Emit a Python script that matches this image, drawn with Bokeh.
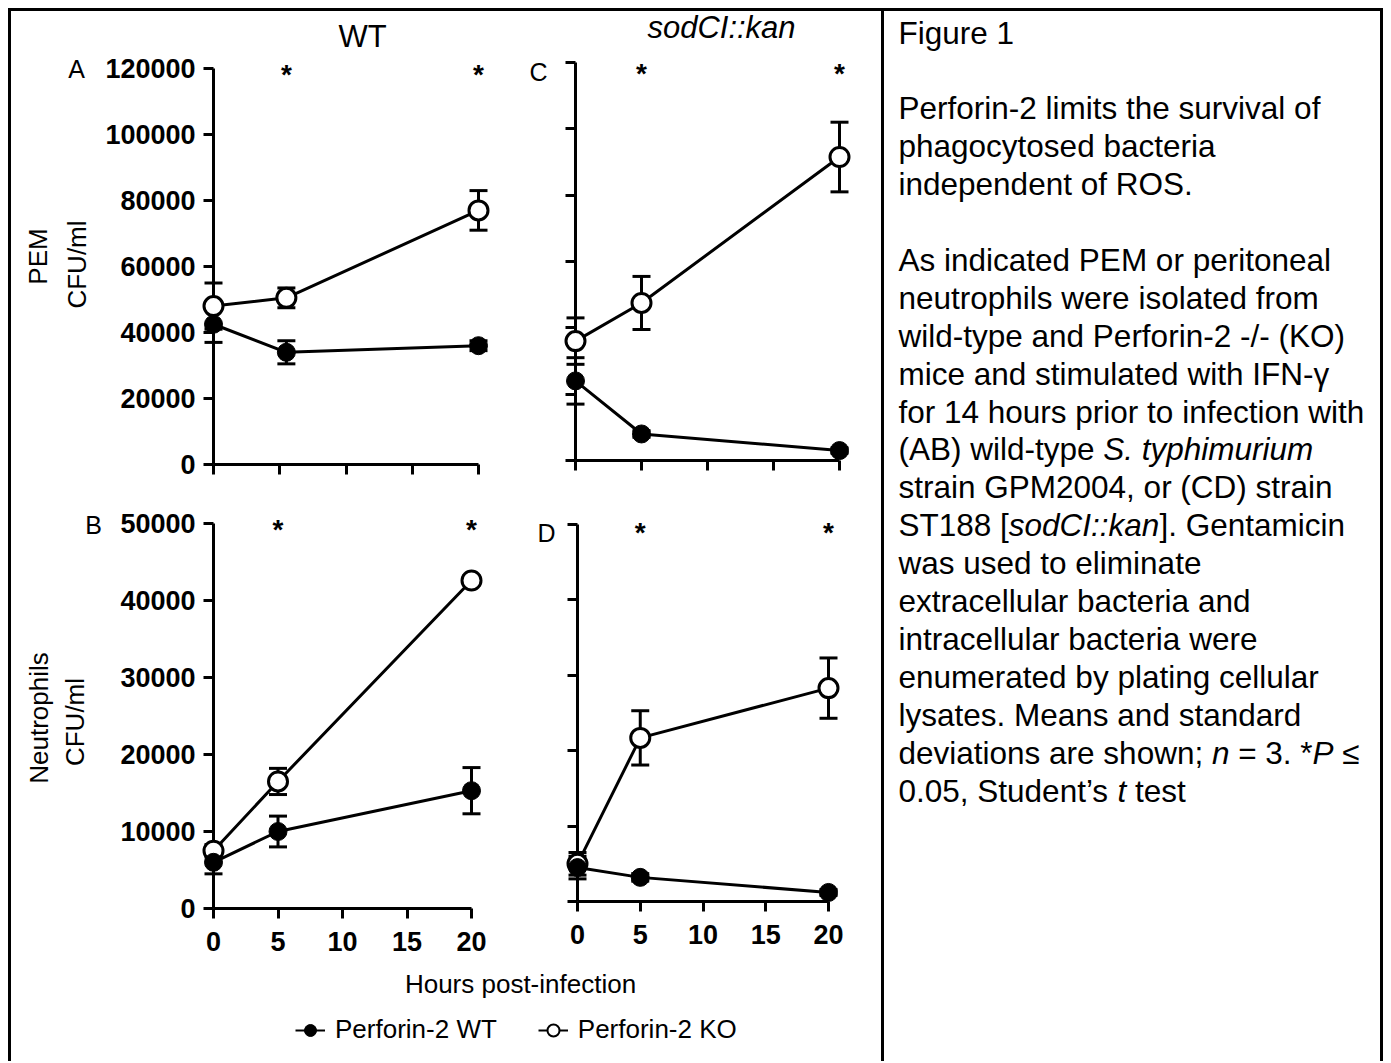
import math
from bokeh.plotting import figure
from bokeh.models import ColumnDataSource, Range1d, FixedTicker, Legend, LegendItem, Spacer
from bokeh.layouts import row, column
from bokeh.core.properties import value
from bokeh.embed import file_html
from bokeh.resources import INLINE

FONT = "Liberation Sans"
NAN = float("nan")

# ---------------- data ----------------
hours = [0, 5, 20]
hours_A = [0, 5.5, 20]
x_ticks = [0, 5, 10, 15, 20]
x_tick_labels = ["0", "5", "10", "15", "20"]

pem_ticks = [0, 20000, 40000, 60000, 80000, 100000, 120000]
pem_tick_labels = ["0", "20000", "40000", "60000", "80000", "100000", "120000"]
neu_ticks = [0, 10000, 20000, 30000, 40000, 50000]
neu_tick_labels = ["0", "10000", "20000", "30000", "40000", "50000"]

# A: PEM, wild-type strain
A_wt_mean = [42500, 34000, 36000]
A_wt_sd = [5500, 3500, 1500]
A_ko_mean = [48000, 50500, 77000]
A_ko_sd = [7000, 3000, 6000]
A_sig = [5.5, 20]

# C: PEM, sodCI::kan
C_wt_mean = [24000, 8000, 3000]
C_wt_sd = [7000, 1000, 800]
C_ko_mean = [36000, 47500, 91500]
C_ko_sd = [7000, 8000, 10500]
C_sig = [5, 20]

# B: Neutrophils, wild-type strain
B_wt_mean = [6000, 10000, 15300]
B_wt_sd = [1500, 2000, 3000]
B_ko_mean = [7500, 16500, 42600]
B_ko_sd = [800, 1700, 600]
B_sig = [5, 20]

# D: Neutrophils, sodCI::kan
D_wt_mean = [4500, 3200, 1200]
D_wt_sd = [1500, 500, 400]
D_ko_mean = [5000, 21700, 28300]
D_ko_sd = [1500, 3600, 4000]
D_sig = [5, 20]

series_labels = ["Perforin-2 WT", "Perforin-2 KO"]
x_title = "Hours post-infection"

caption_lines = [
    [("Figure 1", "normal")],
    [],
    [("Perforin-2 limits the survival of", "normal")],
    [("phagocytosed bacteria", "normal")],
    [("independent of ROS.", "normal")],
    [],
    [("As indicated PEM or peritoneal", "normal")],
    [("neutrophils were isolated from", "normal")],
    [("wild-type and Perforin-2 -/- (KO)", "normal")],
    [("mice and stimulated with IFN-\u03b3", "normal")],
    [("for 14 hours prior to infection with", "normal")],
    [("(AB) wild-type ", "normal"), ("S. typhimurium", "italic")],
    [("strain GPM2004, or (CD) strain", "normal")],
    [("ST188 [", "normal"), ("sodCI::kan", "italic"), ("]. Gentamicin", "normal")],
    [("was used to eliminate", "normal")],
    [("extracellular bacteria and", "normal")],
    [("intracellular bacteria were", "normal")],
    [("enumerated by plating cellular", "normal")],
    [("lysates. Means and standard", "normal")],
    [("deviations are shown; ", "normal"), ("n", "italic"), (" = 3. *", "normal"),
     ("P", "italic"), (" \u2264", "normal")],
    [("0.05, Student\u2019s ", "normal"), ("t", "italic"), (" test", "normal")],
]

# Helvetica/Arial advance widths (per 1000 em) for placing caption segments
HELV = {' ': 278, '(': 333, ')': 333, '[': 278, ']': 278, '.': 278, ',': 278, ';': 278,
        ':': 278, '-': 333, '/': 278, '*': 389, '=': 584, '\u2264': 549, '\u2019': 222,
        '\u03b3': 500,
        'a': 556, 'b': 556, 'c': 500, 'd': 556, 'e': 556, 'f': 278, 'g': 556, 'h': 556,
        'i': 222, 'j': 222, 'k': 500, 'l': 222, 'm': 833, 'n': 556, 'o': 556, 'p': 556,
        'q': 556, 'r': 333, 's': 500, 't': 278, 'u': 556, 'v': 500, 'w': 722, 'x': 500,
        'y': 500, 'z': 500,
        'A': 667, 'B': 667, 'C': 722, 'D': 722, 'E': 667, 'F': 611, 'G': 778, 'H': 722,
        'I': 278, 'J': 500, 'K': 667, 'L': 556, 'M': 833, 'N': 722, 'O': 778, 'P': 667,
        'Q': 778, 'R': 722, 'S': 667, 'T': 611, 'U': 722, 'V': 667, 'W': 944, 'X': 667,
        'Y': 667, 'Z': 611}


def text_width(s, size):
    return sum(HELV.get(c, 556) for c in s) * size / 1000.0


def style_axis(ax):
    ax.axis_line_width = 3
    ax.axis_line_color = "black"
    ax.major_tick_line_width = 3
    ax.major_tick_line_color = "black"
    ax.major_tick_out = 10
    ax.major_tick_in = 0
    ax.minor_tick_line_color = None
    ax.major_label_text_font = FONT
    ax.major_label_text_font_style = "bold"
    ax.major_label_text_font_size = "27px"
    ax.major_label_text_color = "black"


def panel(t, wt, wt_sd, ko, ko_sd, sig_t, yticks, ylabels, show_y, show_x, geom, ann):
    # geom: border left, frame width, border right, border top, frame height, border bottom
    L, FW, R, T, FH, B = geom
    ymin, ymax = yticks[0], yticks[-1]
    p = figure(width=L + FW + R, height=T + FH + B, frame_width=FW, frame_height=FH,
               x_range=Range1d(x_ticks[0], x_ticks[-1]), y_range=Range1d(ymin, ymax),
               min_border_left=L, min_border_right=R, min_border_top=T, min_border_bottom=B,
               output_backend="svg", toolbar_location=None)
    p.grid.visible = False
    p.outline_line_color = None
    p.background_fill_color = "white"
    p.border_fill_color = "white"
    style_axis(p.xaxis[0])
    style_axis(p.yaxis[0])
    p.xaxis.ticker = FixedTicker(ticks=x_ticks)
    p.yaxis.ticker = FixedTicker(ticks=yticks)
    p.xaxis.major_label_overrides = {v: (s if show_x else "") for v, s in zip(x_ticks, x_tick_labels)}
    p.yaxis.major_label_overrides = {v: (s if show_y else "") for v, s in zip(yticks, ylabels)}
    p.xaxis.major_label_standoff = 13
    p.yaxis.major_label_standoff = 8

    # error bars (mean +/- SD)
    for m, sd in ((wt, wt_sd), (ko, ko_sd)):
        src = ColumnDataSource(dict(x=t, lo=[a - b for a, b in zip(m, sd)],
                                    hi=[a + b for a, b in zip(m, sd)]))
        p.segment(x0="x", y0="lo", x1="x", y1="hi", source=src, line_width=3,
                  line_color="black", level="overlay")
        p.scatter(x="x", y="lo", source=src, marker="dash", size=18, line_width=3,
                  line_color="black", level="overlay")
        p.scatter(x="x", y="hi", source=src, marker="dash", size=18, line_width=3,
                  line_color="black", level="overlay")
    p.line(t, wt, line_width=3, line_color="black", level="overlay")
    p.line(t, ko, line_width=3, line_color="black", level="overlay")
    p.scatter(t, ko, marker="circle", size=19, fill_color="white", line_color="black",
              line_width=3, level="overlay")
    p.scatter(t, wt, marker="circle", size=18, fill_color="black", line_color="black",
              line_width=1, level="overlay")

    # significance asterisks
    p.text(x=sig_t, y=[ymax] * len(sig_t), text=["*"] * len(sig_t), text_align="center",
           text_baseline="alphabetic", y_offset=ann["star_dy"], text_font=value(FONT),
           text_font_size="28px", text_font_style="bold", text_color="black", level="overlay")
    # panel letter
    lx, ly = ann["letter_off"]
    p.text(x=[x_ticks[0]], y=[ymax], text=[ann["letter"]], x_offset=lx, y_offset=ly,
           text_align="center", text_baseline="alphabetic", text_font=value(FONT),
           text_font_size="25px", text_color="black", level="overlay")
    # column title
    if "title" in ann:
        tt, tx, ty, tstyle = ann["title"]
        p.text(x=[x_ticks[0]], y=[ymax], text=[tt], x_offset=tx, y_offset=ty,
               text_align="center", text_baseline="alphabetic", text_font=value(FONT),
               text_font_size="31px", text_font_style=tstyle, text_color="black",
               level="overlay")
    # rotated y titles
    for s, ox, oy in ann.get("ytitles", []):
        p.text(x=[x_ticks[0]], y=[(ymin + ymax) / 2], text=[s], x_offset=ox, y_offset=oy,
               angle=math.pi / 2, text_align="center", text_baseline="alphabetic",
               text_font=value(FONT), text_font_size="26px", text_color="black",
               level="overlay")
    return p


pA = panel(hours_A, A_wt_mean, A_wt_sd, A_ko_mean, A_ko_sd, A_sig, pem_ticks, pem_tick_labels,
           True, False, (202, 265, 37, 57, 396, 30),
           dict(star_dy=6, letter="A", letter_off=(-137, 0), title=("WT", 149, -32, "normal"),
                ytitles=[("PEM", -176, -10), ("CFU/ml", -137, -2)]))
pC = panel(hours, C_wt_mean, C_wt_sd, C_ko_mean, C_ko_sd, C_sig, pem_ticks, pem_tick_labels,
           False, False, (60, 264, 42, 51, 398, 34),
           dict(star_dy=11, letter="C", letter_off=(-37, 9),
                title=("sodCI::kan", 146, -35, "italic")))
pB = panel(hours, B_wt_mean, B_wt_sd, B_ko_mean, B_ko_sd, B_sig, neu_ticks, neu_tick_labels,
           True, True, (202, 258, 44, 29, 385, 52),
           dict(star_dy=6, letter="B", letter_off=(-120, 1),
                ytitles=[("Neutrophils", -175, 2), ("CFU/ml", -139, 6)]))
pD = panel(hours, D_wt_mean, D_wt_sd, D_ko_mean, D_ko_sd, D_sig, neu_ticks, neu_tick_labels,
           False, True, (62, 251, 53, 30, 377, 59),
           dict(star_dy=8, letter="D", letter_off=(-31, 8)))

# bottom strip: shared x title and legend
BW, BH = 870, 101
bot = figure(width=BW, height=BH, x_range=Range1d(0, BW), y_range=Range1d(BH, 0),
             x_axis_type=None, y_axis_type=None, min_border=0, output_backend="svg",
             toolbar_location=None)
bot.grid.visible = False
bot.outline_line_color = None
bot.text(x=[509], y=[23], text=[x_title], text_align="center", text_baseline="alphabetic",
         text_font=value(FONT), text_font_size="26px", text_color="black")
r1 = bot.line([NAN], [NAN], line_width=2, line_color="black")
r2 = bot.scatter([NAN], [NAN], marker="circle", size=12, fill_color="black", line_color="black")
r3 = bot.line([NAN], [NAN], line_width=2, line_color="black")
r4 = bot.scatter([NAN], [NAN], marker="circle", size=12, fill_color="white", line_color="black",
                 line_width=2)
legend = Legend(items=[LegendItem(label=series_labels[0], renderers=[r1, r2]),
                       LegendItem(label=series_labels[1], renderers=[r3, r4])],
                orientation="horizontal", location=(284, 16), border_line_color=None,
                background_fill_alpha=0, padding=0, margin=0, spacing=41,
                glyph_width=30, glyph_height=30, label_standoff=10,
                label_text_font=FONT, label_text_font_size="26px", label_text_color="black")
bot.add_layout(legend)

# caption panel
CW, CH = 496, 1050
cap = figure(width=CW, height=CH, x_range=Range1d(0, CW), y_range=Range1d(CH, 0),
             x_axis_type=None, y_axis_type=None, min_border=0, output_backend="svg",
             toolbar_location=None)
cap.grid.visible = False
cap.outline_line_color = None
FS = 31.5
cols = {"normal": dict(x=[], y=[], t=[]), "italic": dict(x=[], y=[], t=[])}
for i, segs in enumerate(caption_lines):
    x = 14.0
    for s, st in segs:
        body = s.lstrip(" ")
        x += text_width(s[:len(s) - len(body)], FS)
        cols[st]["x"].append(x)
        cols[st]["y"].append(21 + 37.9 * i)
        cols[st]["t"].append(body)
        x += text_width(body, FS)
for st, d in cols.items():
    cap.text(x=d["x"], y=d["y"], text=d["t"], text_align="left", text_baseline="alphabetic",
             text_font=value(FONT), text_font_size=f"{FS}px", text_font_style=st,
             text_color="black")

left_col = column(row(column(pA), column(pC)), row(column(pB), column(pD)), bot)

BLACK = {"background-color": "black"}
root = column(
    Spacer(width=1383, height=8),
    row(Spacer(width=8, height=3), Spacer(width=1375, height=3, styles=BLACK)),
    row(Spacer(width=8, height=CH),
        Spacer(width=3, height=CH, styles=BLACK),
        left_col,
        Spacer(width=3, height=CH, styles=BLACK),
        cap,
        Spacer(width=3, height=CH, styles=BLACK)),
)

open("out.html", "w").write(file_html(root, INLINE))
